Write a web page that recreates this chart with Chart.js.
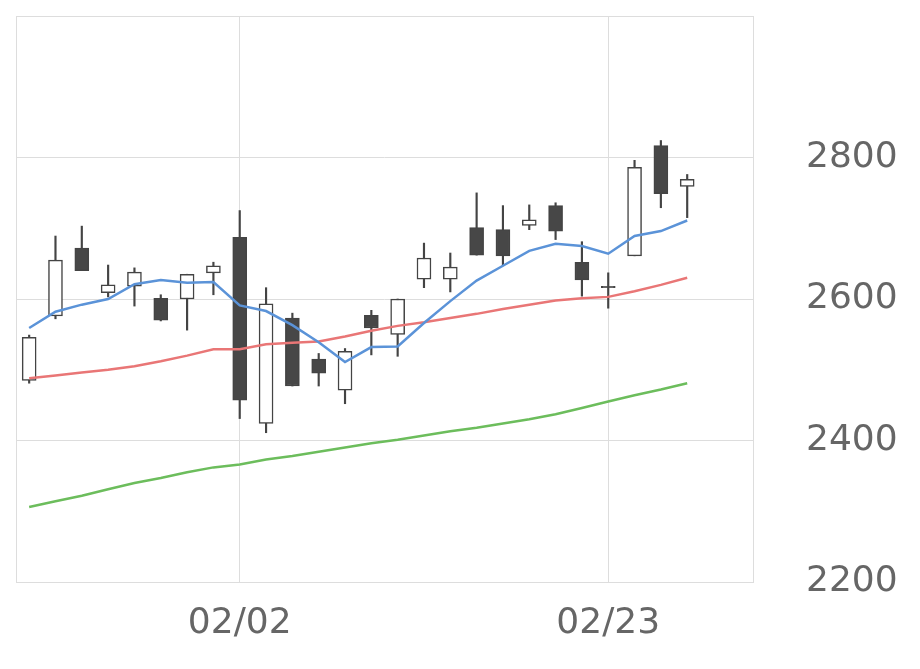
<!DOCTYPE html>
<html>
<head>
<meta charset="utf-8">
<script src="https://cdn.jsdelivr.net/npm/chart.js@4"></script>
<style>
html, body { margin: 0; padding: 0; background: #fff; }
#wrap { width: 920px; height: 669px; }
</style>
</head>
<body>
<div id="wrap"><canvas id="myChart"></canvas></div>
<script>
const labels = ['01/19','01/20','01/21','01/22','01/25','01/26','01/27','01/28','02/02','02/03','02/04','02/05','02/08','02/09','02/10','02/12','02/15','02/16','02/17','02/18','02/19','02/22','02/23','02/24','02/25','02/26','','']
const opens  = [2485,2576,2672,2609,2618,2601,2600,2637,2687,2424,2573,2515,2471,2577,2550,2628,2628,2701,2698,2704,2732,2652,2618,2661,2817,2759]
const closes = [2546,2655,2640,2620,2638,2570,2635,2647,2457,2593,2477,2495,2526,2559,2600,2658,2645,2662,2661,2712,2696,2627,2616,2786,2749,2769]
const highs  = [2549,2689,2703,2648,2644,2606,2635,2652,2725,2616,2580,2523,2530,2584,2600,2679,2665,2750,2732,2733,2736,2681,2637,2796,2824,2776]
const lows   = [2481,2572,2640,2603,2590,2569,2556,2606,2431,2411,2477,2477,2452,2521,2519,2616,2610,2662,2647,2698,2684,2604,2587,2661,2729,2715]
const ma5  = [2559,2582,2592,2600,2621,2627,2623,2624,2591,2583,2563,2539,2511,2532,2533,2566,2597,2626,2647,2668,2678,2675,2664,2689,2696,2711]
const ma25 = [2488,2492,2496,2500,2505,2512,2520,2529,2529,2536,2538,2540,2547,2555,2562,2567,2573,2579,2586,2592,2598,2601,2603,2611,2620,2630]
const ma75 = [2306,2314,2322,2331,2340,2347,2355,2362,2366,2373,2378,2384,2390,2396,2401,2407,2413,2418,2424,2430,2437,2446,2455,2464,2472,2481]
const shownDates = ['02/02','02/23']

const wicks = lows.map((l, i) => [l, highs[i]])
const bodies = opens.map((o, i) => [o, closes[i]])
const bodyColors = opens.map((o, i) => closes[i] >= o ? '#ffffff' : '#474747')

// fixes the plot box where the reference has it
const areaPlugin = {
    id: 'area',
    afterLayout(chart) {
        chart.chartArea.top = 16
        chart.chartArea.bottom = 582
        chart.chartArea.height = 566
        const y = chart.scales.y
        y.top = 16; y.bottom = 582; y.height = 566
        y.configure()
        const x = chart.scales.x
        x.top = 582; x.bottom = 669; x.height = 87
    },
    afterDraw(chart) {
        const a = chart.chartArea
        const ctx = chart.ctx
        ctx.save()
        ctx.strokeStyle = '#dddddd'
        ctx.lineWidth = 1
        ctx.strokeRect(a.left + 0.5, a.top + 0.5, a.right - a.left, a.bottom - a.top)
        ctx.restore()
    }
}

const lineStyle = (data, color) => ({
    type: 'line', data: data, borderColor: color, borderWidth: 2.5,
    pointRadius: 0, tension: 0, fill: false, order: 1
})

new Chart(document.getElementById('myChart'), {
    type: 'bar',
    data: {
        labels: labels,
        datasets: [
            { data: wicks, backgroundColor: '#444444', barThickness: 1.5, grouped: false, order: 3 },
            { data: bodies, backgroundColor: bodyColors, borderColor: '#444444', borderWidth: 1.5,
              borderSkipped: false, barThickness: 14, grouped: false, order: 2 },
            lineStyle(ma5, '#5b93d8'),
            lineStyle(ma25, '#e97676'),
            lineStyle(ma75, '#6cbd5c')
        ]
    },
    options: {
        responsive: true,
        maintainAspectRatio: false,
        animation: false,
        layout: { padding: { top: 16, left: 16, right: 0, bottom: 0 } },
        plugins: { legend: { display: false }, tooltip: { enabled: false } },
        scales: {
            x: {
                offset: true,
                grid: {
                    offset: false,
                    color: ctx => shownDates.includes(labels[ctx.index]) ? '#dddddd' : 'rgba(0,0,0,0)',
                    drawTicks: false
                },
                border: { display: false },
                ticks: {
                    autoSkip: false, maxRotation: 0, color: '#666666', padding: 20,
                    font: { family: 'DejaVu Sans', size: 36 },
                    callback: (v, i) => shownDates.includes(labels[i]) ? labels[i] : ''
                }
            },
            y: {
                position: 'right',
                min: 2200, max: 3000,
                grid: { color: '#dddddd', drawTicks: false },
                border: { display: false },
                afterFit: axis => { axis.width = 167 },
                ticks: {
                    stepSize: 200, color: '#666666', padding: 53,
                    font: { family: 'DejaVu Sans', size: 36 },
                    callback: v => v === 3000 ? '' : v
                }
            }
        }
    },
    plugins: [areaPlugin]
})
</script>
</body>
</html>
